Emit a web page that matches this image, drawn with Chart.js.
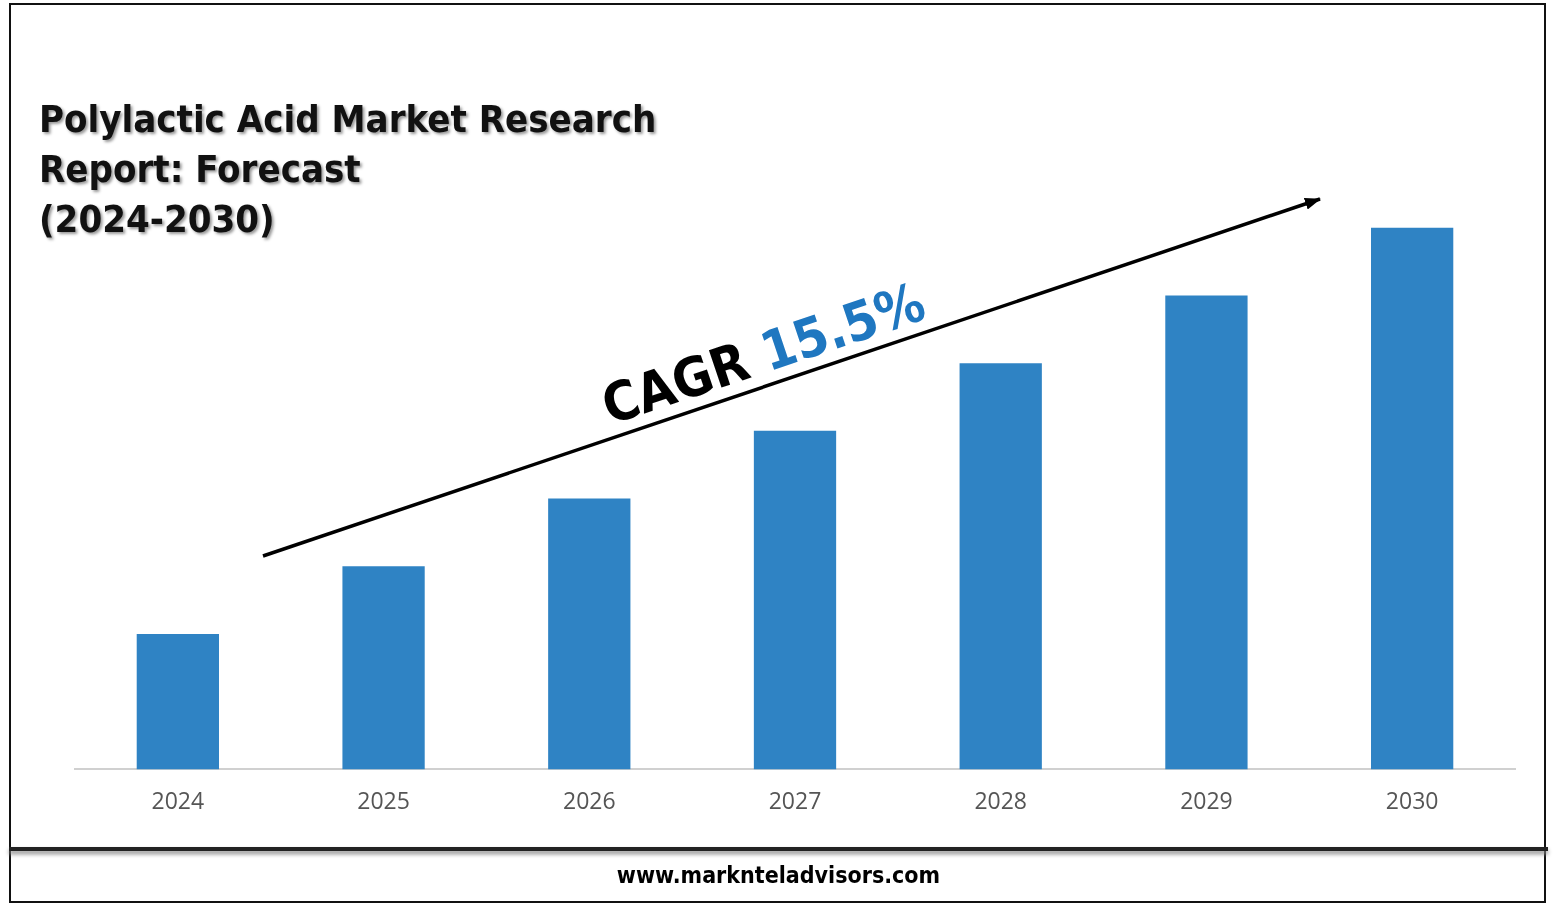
<!DOCTYPE html>
<html><head><meta charset="utf-8">
<script src="https://cdn.jsdelivr.net/npm/chart.js@4"></script>
<style>
body{margin:0;background:#fff;width:1557px;height:907px;position:relative;overflow:hidden;font-family:"DejaVu Sans",sans-serif}
#frame{position:absolute;left:9px;top:3px;width:1537px;height:900px;border:2px solid #111;box-sizing:border-box}
#foot{position:absolute;left:9px;top:847px;width:1539px;height:4px;background:#222;box-shadow:0 3px 4px #888}
#url{position:absolute;left:0;width:1557px;top:862px;text-align:center;font:bold 23px "DejaVu Sans Condensed","DejaVu Sans";color:#000}
#title{position:absolute;left:39px;top:94px;font:bold 38px "DejaVu Sans Condensed","DejaVu Sans";line-height:50px;color:#111;text-shadow:2px 2px 3px #999}
#c{position:absolute;left:0;top:0}
svg{position:absolute;left:0;top:0}
</style></head><body>
<div id="frame"></div>
<canvas id="c" width="1557" height="907"></canvas>
<div id="title">Polylactic Acid Market Research<br>Report: Forecast<br>(2024-2030)</div>
<svg width="1557" height="907">
<defs><marker id="a" markerUnits="userSpaceOnUse" markerWidth="16" markerHeight="12" refX="15" refY="6" orient="auto"><path d="M0,0 L16,6 L0,12 z" fill="#000"/></marker></defs>
<line x1="263" y1="556" x2="1320" y2="199" stroke="#000" stroke-width="3.5" marker-end="url(#a)"/>
<text transform="translate(610,425) rotate(-18.6)" font-family="DejaVu Sans Condensed, DejaVu Sans" font-weight="bold" font-size="54"><tspan fill="#000">CAGR </tspan><tspan fill="#1f77c0">15.5%</tspan></text>
</svg>
<div id="foot"></div>
<div id="url">www.marknteladvisors.com</div>
<script>
const categories=["2024","2025","2026","2027","2028","2029","2030"];
const values=[2,3,4,5,6,7,8];
new Chart(document.getElementById('c'),{type:'bar',
data:{labels:categories,datasets:[{data:values,backgroundColor:'#2f83c4',barPercentage:0.4,categoryPercentage:1}]},
options:{responsive:false,animation:false,
layout:{padding:{left:75,right:42,top:160,bottom:80}},
plugins:{legend:{display:false},tooltip:{enabled:false}},
scales:{y:{display:false,min:0,max:9},
x:{grid:{display:false},border:{color:'#d0d0d0',width:2},ticks:{color:'#555',font:{family:'Open Sans',size:23},padding:11}}}}});
</script>
</body></html>
